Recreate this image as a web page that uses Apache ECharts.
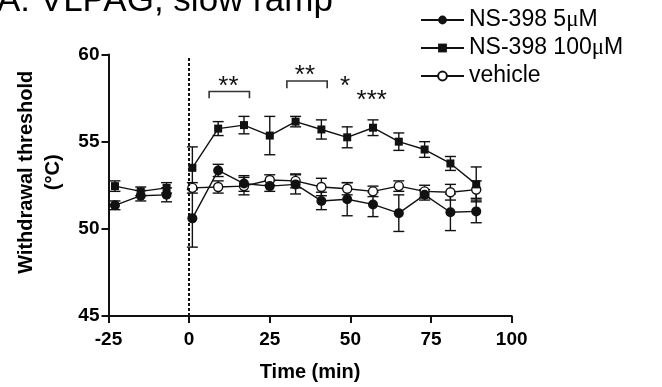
<!DOCTYPE html>
<html>
<head>
<meta charset="utf-8">
<script src="https://cdn.jsdelivr.net/npm/echarts@6/dist/echarts.min.js"></script>
<style>
  html, body { margin: 0; padding: 0; background: #fff; }
  #chart { width: 662px; height: 387px; }
</style>
</head>
<body>
<div id="chart"></div>
<script>
// Sampling times (min) before and after drug injection at t = 0
const timesPre = [-23, -15, -7];
const timesPost = [1, 9, 17, 25, 33, 41, 49, 57, 65, 73, 81, 89];

// NS-398 5 µM: mean and SEM
const ns5Pre = [51.35, 51.9, 51.95];
const ns5PreErr = [0.25, 0.3, 0.4];
const ns5Post = [50.6, 53.35, 52.6, 52.45, 52.55, 51.6, 51.7, 51.4, 50.9, 51.95, 50.95, 51.0];
const ns5PostErr = [1.65, 0.35, 0.45, 0.3, 0.55, 0.5, 0.95, 0.7, 1.05, 0.3, 1.05, 0.65];

// NS-398 100 µM: mean and SEM
const ns100Pre = [52.45, 52.15, 52.35];
const ns100PreErr = [0.3, 0.25, 0.3];
const ns100Post = [53.5, 55.75, 55.95, 55.35, 56.15, 55.7, 55.25, 55.8, 55.0, 54.55, 53.75, 52.55];
const ns100PostErr = [1.2, 0.4, 0.5, 1.1, 0.3, 0.55, 0.6, 0.45, 0.5, 0.45, 0.4, 1.0];

// Vehicle: mean and SEM (post-injection only)
const vehPost = [52.35, 52.4, 52.45, 52.8, 52.75, 52.4, 52.3, 52.15, 52.45, 52.15, 52.1, 52.25];
const vehPostErr = [0.3, 0.35, 0.5, 0.3, 0.4, 0.5, 0.35, 0.3, 0.3, 0.35, 0.45, 0.5];

// Axis ticks
const xTicks = [-25, 0, 25, 50, 75, 100];
const yTicks = [45, 50, 55, 60];

// Significance brackets: [start time, end time, bracket top, leg bottom]
const brackets = [[6.2, 18.7, 57.88, 57.49], [30.3, 42.8, 58.48, 58.07]];
// Significance stars: [time, level, text]
const stars = [[12.2, 58.5, '**'], [35.9, 59.13, '**'], [48.3, 58.48, '*'], [56.6, 57.69, '***']];

const seriesNames = ['NS-398 5μM', 'NS-398 100μM', 'vehicle'];

const SANS = '"Liberation Sans", Arial, Helvetica, sans-serif';
const INK = '#111';

function linePoints(pre, post) {
  const pts = [];
  if (pre) {
    timesPre.forEach((t, i) => pts.push([t, pre[i]]));
    pts.push([-3, '-']); // break the line across the injection
  }
  timesPost.forEach((t, i) => pts.push([t, post[i]]));
  return pts;
}

function errPoints(pre, preErr, post, postErr) {
  const pts = [];
  if (pre) timesPre.forEach((t, i) => pts.push([t, pre[i] - preErr[i], pre[i] + preErr[i]]));
  timesPost.forEach((t, i) => pts.push([t, post[i] - postErr[i], post[i] + postErr[i]]));
  return pts;
}

function renderErrorBar(params, api) {
  const x = api.value(0);
  const lo = api.coord([x, api.value(1)]);
  const hi = api.coord([x, api.value(2)]);
  const cap = 5.5;
  const st = { stroke: INK, lineWidth: 1.4 };
  return {
    type: 'group',
    children: [
      { type: 'line', shape: { x1: lo[0], y1: lo[1], x2: hi[0], y2: hi[1] }, style: st },
      { type: 'line', shape: { x1: lo[0] - cap, y1: lo[1], x2: lo[0] + cap, y2: lo[1] }, style: st },
      { type: 'line', shape: { x1: hi[0] - cap, y1: hi[1], x2: hi[0] + cap, y2: hi[1] }, style: st }
    ]
  };
}

function errorSeries(data) {
  return {
    type: 'custom',
    silent: true,
    z: 2,
    data: data,
    encode: { x: 0, y: [1, 2] },
    renderItem: renderErrorBar
  };
}

const chart = echarts.init(document.getElementById('chart'), null, { renderer: 'canvas' });

chart.setOption({
  animation: false,
  backgroundColor: '#fff',
  title: {
    text: 'A: VLPAG, slow ramp',
    left: -3,
    top: -16,
    padding: 0,
    textStyle: { fontFamily: SANS, fontSize: 35, fontWeight: 'normal', color: '#000' }
  },
  legend: {
    data: seriesNames,
    orient: 'vertical',
    left: 415,
    top: 3,
    itemWidth: 43,
    itemHeight: 11,
    itemGap: 4,
    selectedMode: false,
    formatter: name => name.replace('μ', '{mu|μ}'),
    textStyle: {
      fontFamily: SANS,
      fontSize: 23,
      lineHeight: 24,
      color: '#000',
      rich: {
        mu: { fontFamily: '"Liberation Serif", "DejaVu Serif", serif', fontSize: 23, lineHeight: 24, color: '#000' }
      }
    }
  },
  grid: { left: 108.5, right: 150.3, top: 54.5, bottom: 65.3, containLabel: false },
  xAxis: {
    type: 'value',
    min: xTicks[0],
    max: xTicks[xTicks.length - 1],
    interval: 25,
    name: 'Time (min)',
    nameLocation: 'middle',
    nameGap: 46,
    nameTextStyle: { fontFamily: SANS, fontSize: 20, fontWeight: 'bold', color: '#000' },
    axisLine: { onZero: false, lineStyle: { color: INK, width: 2 } },
    axisTick: { length: 7, lineStyle: { color: INK, width: 2 } },
    axisLabel: { fontFamily: SANS, fontSize: 19, fontWeight: 'bold', color: '#000', margin: 14 },
    splitLine: { show: false }
  },
  yAxis: {
    type: 'value',
    min: yTicks[0],
    max: yTicks[yTicks.length - 1],
    interval: 5,
    name: 'Withdrawal threshold\n(°C)',
    nameLocation: 'middle',
    nameGap: 42,
    nameRotate: 90,
    nameTextStyle: {
      fontFamily: SANS, fontSize: 20, fontWeight: 'bold', color: '#000',
      lineHeight: 27, align: 'center', padding: [0, 0, 0, 26]
    },
    axisLine: { show: true, onZero: false, lineStyle: { color: INK, width: 2 } },
    axisTick: { show: true, length: 7, lineStyle: { color: INK, width: 2 } },
    axisLabel: { fontFamily: SANS, fontSize: 19, fontWeight: 'bold', color: '#000', margin: 9 },
    splitLine: { show: false }
  },
  series: [
    errorSeries(errPoints(ns5Pre, ns5PreErr, ns5Post, ns5PostErr)),
    errorSeries(errPoints(ns100Pre, ns100PreErr, ns100Post, ns100PostErr)),
    errorSeries(errPoints(null, null, vehPost, vehPostErr)),
    {
      name: seriesNames[2],
      type: 'line',
      z: 3,
      data: linePoints(null, vehPost),
      symbol: 'circle',
      symbolSize: 9,
      showAllSymbol: true,
      lineStyle: { color: INK, width: 1.4 },
      itemStyle: { color: '#fff', borderColor: INK, borderWidth: 1.4 },
      emphasis: { disabled: true },
      markLine: {
        silent: true,
        symbol: ['none', 'none'],
        label: { show: false },
        lineStyle: { color: INK, width: 2, type: [3, 2] },
        data: [[{ coord: [0, 45] }, { coord: [0, 59.8] }]]
      }
    },
    {
      name: seriesNames[1],
      type: 'line',
      z: 4,
      data: linePoints(ns100Pre, ns100Post),
      symbol: 'rect',
      symbolSize: 8,
      showAllSymbol: true,
      lineStyle: { color: INK, width: 1.4 },
      itemStyle: { color: INK },
      emphasis: { disabled: true }
    },
    {
      name: seriesNames[0],
      type: 'line',
      z: 5,
      data: linePoints(ns5Pre, ns5Post),
      symbol: 'circle',
      symbolSize: 10,
      showAllSymbol: true,
      lineStyle: { color: INK, width: 1.4 },
      itemStyle: { color: INK },
      emphasis: { disabled: true }
    },
    {
      // significance brackets
      type: 'custom',
      silent: true,
      z: 6,
      data: brackets,
      encode: { x: [0, 1], y: [2, 3] },
      renderItem: (params, api) => {
        const a = api.coord([api.value(0), api.value(3)]);
        const b = api.coord([api.value(0), api.value(2)]);
        const c = api.coord([api.value(1), api.value(2)]);
        const d = api.coord([api.value(1), api.value(3)]);
        return {
          type: 'polyline',
          shape: { points: [a, b, c, d] },
          style: { stroke: '#333', lineWidth: 1.6, fill: null }
        };
      }
    },
    {
      // significance stars
      type: 'custom',
      silent: true,
      z: 6,
      data: stars,
      encode: { x: 0, y: 1 },
      renderItem: (params, api) => {
        const p = api.coord([api.value(0), api.value(1)]);
        return {
          type: 'text',
          x: p[0],
          y: p[1] + 6,
          style: {
            text: stars[params.dataIndex][2],
            fontFamily: SANS,
            fontSize: 26,
            fill: '#111',
            align: 'center',
            verticalAlign: 'middle'
          }
        };
      }
    }
  ]
});
</script>
</body>
</html>
